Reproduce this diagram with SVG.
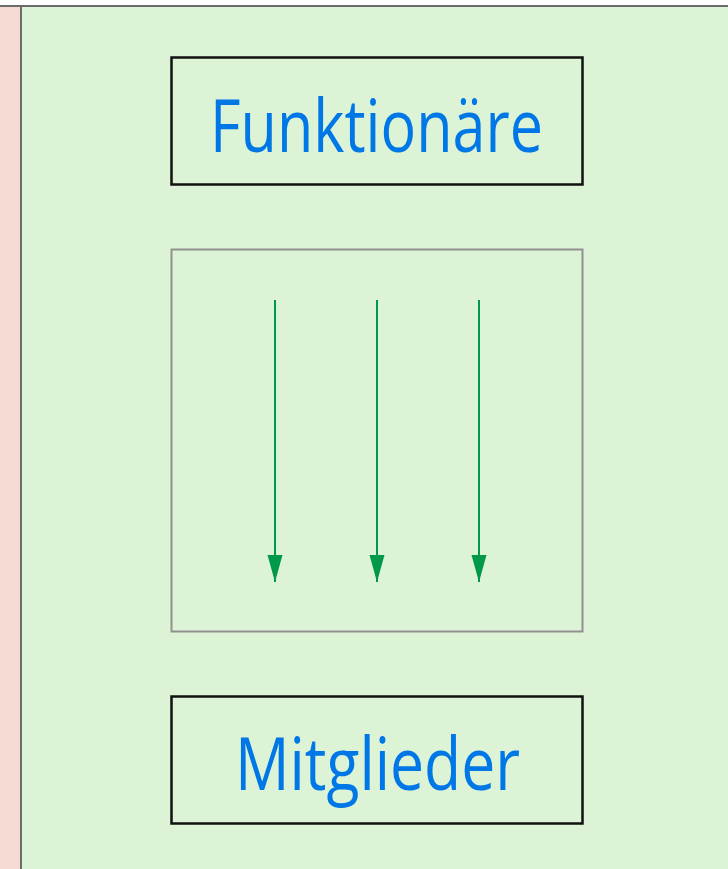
<svg xmlns="http://www.w3.org/2000/svg" width="728" height="869" viewBox="0 0 728 869">
<style>
.box{fill:none;stroke:#111;stroke-width:2.5}
.lbl{font-family:"Open Sans","Noto Sans","Liberation Sans",sans-serif;fill:#0077E6;text-anchor:start}
.arr{stroke:#00994A;stroke-width:2;fill:none}
</style>
<defs>
<marker id="ah" markerUnits="userSpaceOnUse" markerWidth="28" markerHeight="16" refX="27" refY="8" orient="auto" viewBox="0 0 28 16">
<path d="M0,0.5 L27,8 L0,15.5 Z" fill="#00994A"/>
</marker>
</defs>
<rect x="0" y="0" width="728" height="869" fill="#DCF4D5"/>
<rect x="0" y="6" width="21" height="863" fill="#F5D9D3"/>
<rect x="0" y="0" width="728" height="6" fill="#ffffff"/>
<line x1="0" y1="6" x2="728" y2="6" stroke="#6b6b6b" stroke-width="2"/>
<line x1="21" y1="6" x2="21" y2="869" stroke="#6b6b6b" stroke-width="2"/>
<g id="funktionaere">
<rect class="box" x="171.5" y="57.5" width="411" height="127"/>
<text class="lbl" x="210" y="152" font-size="73" textLength="333" lengthAdjust="spacingAndGlyphs">Funktionäre</text>
</g>
<g id="frame">
<rect x="171.5" y="249.5" width="411" height="382" fill="none" stroke="#909090" stroke-width="2"/>
</g>
<g id="mitglieder">
<rect class="box" x="171.5" y="696.5" width="411" height="127"/>
<text class="lbl" x="235" y="790" font-size="73" textLength="285" lengthAdjust="spacingAndGlyphs">Mitglieder</text>
</g>
<g id="connectors">
<line class="arr" x1="275" y1="300" x2="275" y2="582" marker-end="url(#ah)"/>
<line class="arr" x1="377" y1="300" x2="377" y2="582" marker-end="url(#ah)"/>
<line class="arr" x1="479" y1="300" x2="479" y2="582" marker-end="url(#ah)"/>
</g>
</svg>
